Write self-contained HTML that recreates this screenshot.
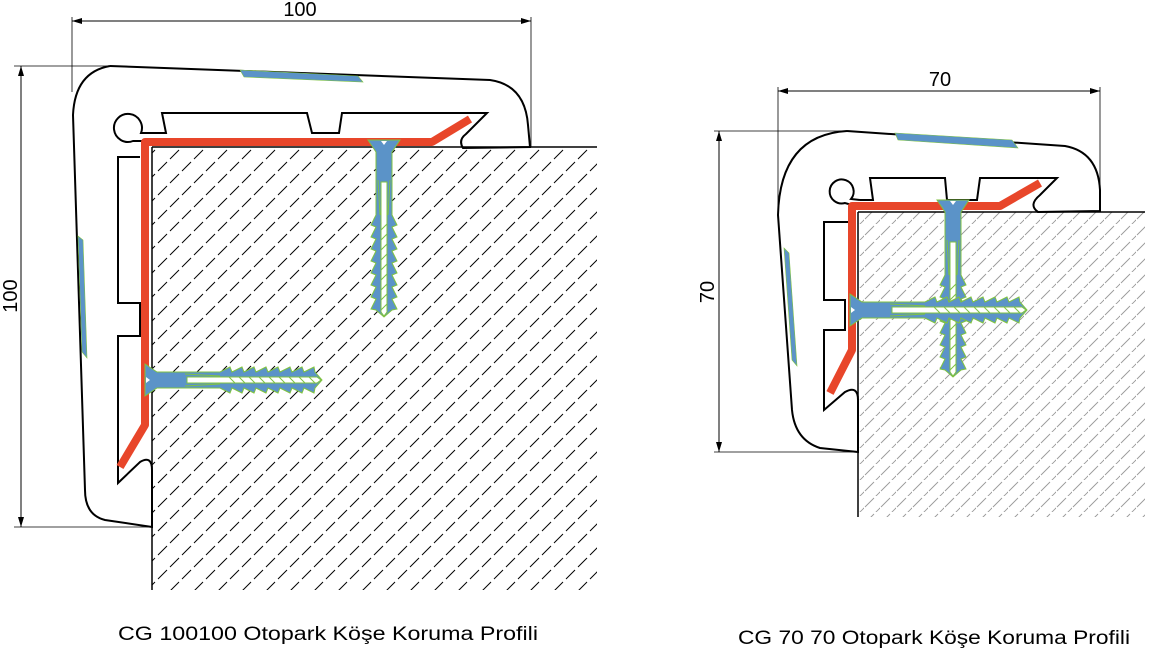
<!DOCTYPE html>
<html><head><meta charset="utf-8"><style>
html,body{margin:0;padding:0;background:#fff;}
svg{display:block;}
text{font-family:"Liberation Sans",sans-serif;}
</style></head><body>
<svg width="1165" height="655" viewBox="0 0 1165 655" xmlns="http://www.w3.org/2000/svg">
<defs>
<pattern id="h1" patternUnits="userSpaceOnUse" width="24" height="24">
<line x1="2" y1="15" x2="11" y2="6" stroke="#000" stroke-width="1"/>
<line x1="14" y1="27" x2="23" y2="18" stroke="#000" stroke-width="1"/>
<line x1="14" y1="3" x2="23" y2="-6" stroke="#000" stroke-width="1"/>
</pattern>
<pattern id="h2" patternUnits="userSpaceOnUse" width="16" height="16">
<line x1="1" y1="11" x2="10" y2="2" stroke="#999" stroke-width="0.9"/>
<line x1="9" y1="19" x2="18" y2="10" stroke="#999" stroke-width="0.9"/>
</pattern>
<g id="screw">
<polygon points="-16,0 16,0 8,12 8,40 8,75 13,85 8,87 13,97 8,99 13,109 8,111 13,121 8,123 13,133 8,135 13,145 8,147 13,157 8,159 13,169 8,170 0,177 -8,170 -13,169 -8,159 -13,157 -8,147 -13,145 -8,135 -13,133 -8,123 -13,121 -8,111 -13,109 -8,99 -13,97 -8,87 -13,85 -8,75 -8,40 -8,12" fill="#5b93c8" stroke="#7fc241" stroke-width="1"/>
<polygon points="-3,42 3,42 3,172 0,176 -3,172" fill="#fff" stroke="#7fc241" stroke-width="1"/>
<line x1="-6" y1="40" x2="-4" y2="75" stroke="#7fc241"/>
<line x1="6" y1="40" x2="4" y2="75" stroke="#7fc241"/>
<path d="M-3 90 L3 84 M-3 100 L3 94 M-3 110 L3 104 M-3 120 L3 114 M-3 130 L3 124 M-3 140 L3 134 M-3 150 L3 144 M-3 160 L3 154 M-3 170 L3 164" stroke="#7fc241"/>
<polygon points="-3,1 3,1 0,5" fill="#fff"/>
</g>
</defs>

<!-- LEFT -->
<rect x="152" y="147" width="445" height="443" fill="url(#h1)"/>
<rect x="152" y="147" width="445" height="2" fill="#fff"/>
<line x1="152" y1="147" x2="597" y2="147" stroke="#000" stroke-width="1.5"/>
<line x1="152" y1="147" x2="152" y2="590" stroke="#000" stroke-width="1.5"/>

<path d="M110 66 L490 80 Q525 85 528 125 L530 147 L463 148 Q458 140 466 134 L487 113 L342 113 L339 133 L312 133 L307 113 L162 113 L166 133 L150 133" fill="none" stroke="#000" stroke-width="2"/>
<path d="M150 133 L141 133 A14 14 0 1 0 133 141 L148 141" fill="none" stroke="#000" stroke-width="2"/>
<path d="M140 157 L118 157 L118 303 L140 303 L140 336 L118 336 L118 483 L140 462 Q152 455 152 470 L152 527 L105 520 Q85 515 85 490 L73 115 Q75 72 110 66" fill="none" stroke="#000" stroke-width="2"/>
<polyline points="120,467 145,425 145,142 432,142 470,119" fill="none" stroke="#e8462a" stroke-width="8" stroke-linejoin="round"/>
<polygon points="240,70 358,76 363,82 244,77" fill="#5b93c8" stroke="#7fc241" stroke-width="0.6"/>
<polygon points="78,236 83,240 87,358 82,352" fill="#5b93c8" stroke="#7fc241" stroke-width="0.6"/>
<use href="#screw" transform="translate(384,140)"/>
<use href="#screw" transform="translate(145,380) rotate(-90)"/>

<line x1="72" y1="21" x2="531" y2="21" stroke="#000" stroke-width="1"/>
<line x1="72" y1="17" x2="72" y2="92" stroke="#000" stroke-width="0.8"/>
<line x1="531" y1="17" x2="531" y2="147" stroke="#000" stroke-width="0.8"/>
<polygon points="72,21 82,18 82,24"/><polygon points="531,21 521,18 521,24"/>
<text x="300" y="16" font-size="20" text-anchor="middle">100</text>
<line x1="21" y1="66" x2="21" y2="527" stroke="#000" stroke-width="1"/>
<line x1="14" y1="66" x2="110" y2="66" stroke="#000" stroke-width="0.8"/>
<line x1="14" y1="527" x2="152" y2="527" stroke="#000" stroke-width="0.8"/>
<polygon points="21,66 18,76 24,76"/><polygon points="21,527 18,517 24,517"/>
<text transform="translate(17,296) rotate(-90)" font-size="20" text-anchor="middle">100</text>

<!-- RIGHT -->
<rect x="858" y="212" width="287" height="305" fill="url(#h2)"/>
<line x1="858" y1="212" x2="1145" y2="212" stroke="#000" stroke-width="1.5"/>
<line x1="858" y1="212" x2="858" y2="517" stroke="#000" stroke-width="1.5"/>
<path d="M847 131 L1065 146 Q1098 152 1100 190 L1100 211 L1038 212 Q1028 205 1040 195 L1057 178 L980 178 L977 200 L947 200 L945 178 L870 178 L873 200 L860 200" fill="none" stroke="#000" stroke-width="2"/>
<path d="M860 200 L851 199 A12 12 0 1 0 845 203 L852 205" fill="none" stroke="#000" stroke-width="2"/>
<path d="M850 222 L824 222 L824 300 L845 300 L845 330 L824 330 L824 410 L845 392 Q858 385 858 400 L858 452 L820 448 Q795 440 792 410 L778 215 Q780 135 847 131" fill="none" stroke="#000" stroke-width="2"/>
<polyline points="830,393 852,350 852,206 1000,206 1040,183" fill="none" stroke="#e8462a" stroke-width="8" stroke-linejoin="round"/>
<polygon points="895,133 1012,140 1018,148 898,140" fill="#5b93c8" stroke="#7fc241" stroke-width="0.6"/>
<polygon points="784,248 789,253 797,366 792,360" fill="#5b93c8" stroke="#7fc241" stroke-width="0.6"/>
<use href="#screw" transform="translate(953,200)"/>
<use href="#screw" transform="translate(850,310) rotate(-90)"/>

<line x1="778" y1="91" x2="1100" y2="91" stroke="#000" stroke-width="1"/>
<line x1="778" y1="87" x2="778" y2="215" stroke="#000" stroke-width="0.8"/>
<line x1="1100" y1="87" x2="1100" y2="211" stroke="#000" stroke-width="0.8"/>
<polygon points="778,91 788,88 788,94"/><polygon points="1100,91 1090,88 1090,94"/>
<text x="940" y="86" font-size="20" text-anchor="middle">70</text>
<line x1="719" y1="131" x2="719" y2="452" stroke="#000" stroke-width="1"/>
<line x1="714" y1="131" x2="847" y2="131" stroke="#000" stroke-width="0.8"/>
<line x1="714" y1="452" x2="858" y2="452" stroke="#000" stroke-width="0.8"/>
<polygon points="719,131 716,141 722,141"/><polygon points="719,452 716,442 722,442"/>
<text transform="translate(714,292) rotate(-90)" font-size="20" text-anchor="middle">70</text>

<text x="118" y="640" font-size="19" textLength="420" lengthAdjust="spacingAndGlyphs">CG 100100  Otopark Köşe Koruma Profili</text>
<text x="738" y="644" font-size="19" textLength="392" lengthAdjust="spacingAndGlyphs">CG 70 70 Otopark Köşe Koruma Profili</text>
</svg>
</body></html>
